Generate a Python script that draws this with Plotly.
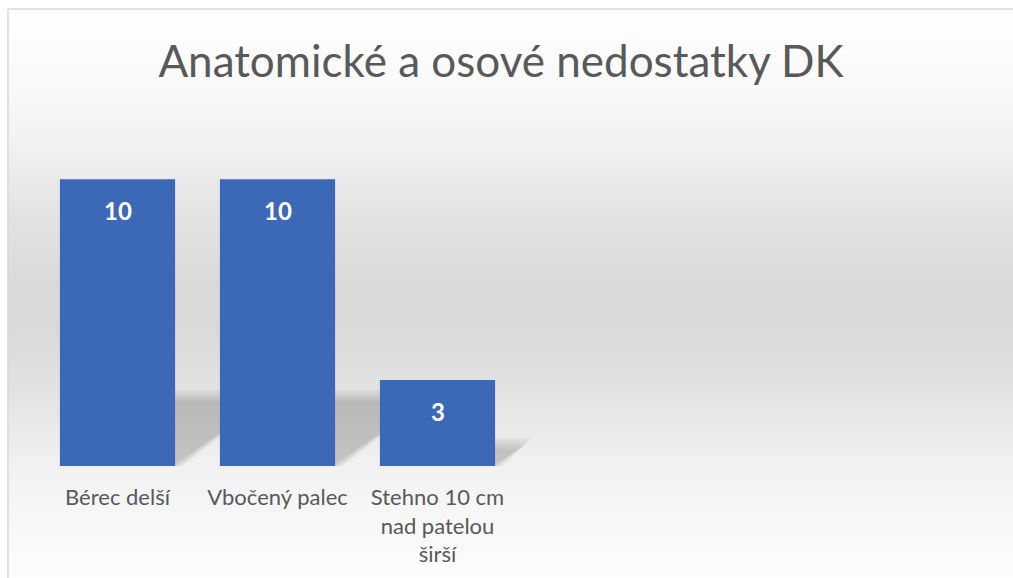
import plotly.graph_objects as go
import numpy as np

categories = ["Bérec delší", "Vbočený palec", "Stehno 10 cm<br>nad patelou<br>širší"]
values = [10, 10, 3]
n_slots = 6

W, H = 1013, 578
# pixel geometry of the plot area
plot_left, plot_right = 37.5, 997.5
plot_bottom_px, plot_top_px = 466, 122
y_max = 12
px_per_y = (plot_bottom_px - plot_top_px) / y_max
px_per_x = (plot_right - plot_left) / n_slots
bar_w = 0.72

fig = go.Figure()

x_idx = list(range(len(categories)))
fig.add_trace(go.Bar(
    x=x_idx, y=values,
    marker=dict(color="#3c68b8", line=dict(width=0)),
    width=bar_w,
    hoverinfo="skip",
))

# data labels
for xi, v in zip(x_idx, values):
    fig.add_annotation(x=xi, y=v, xref="x", yref="y", text=f"<b>{v}</b>",
                       showarrow=False, yshift=-31,
                       font=dict(family="Lato", size=24, color="white"))

shapes = []
# background gradient (chart area starts at x=8, y=9)
stops = [(9, 255), (100, 248), (150, 240), (215, 227), (290, 217), (320, 217),
         (360, 222), (420, 232), (470, 242), (578, 253)]
sy = np.array([s[0] for s in stops], float)
sv = np.array([s[1] for s in stops], float)
step = 3
for y0 in range(9, H, step):
    y1 = min(y0 + step, H)
    g = int(round(np.interp((y0 + y1) / 2, sy, sv)))
    shapes.append(dict(type="rect", xref="paper", yref="paper", layer="below",
                       x0=8 / W, x1=1, y0=1 - y1 / H, y1=1 - y0 / H,
                       fillcolor=f"rgb({g},{g},{g})", line=dict(width=0)))
# border
shapes.append(dict(type="line", xref="paper", yref="paper", layer="below",
                   x0=8 / W, x1=1, y0=1 - 9 / H, y1=1 - 9 / H,
                   line=dict(color="#d9d9d9", width=1.5)))
shapes.append(dict(type="line", xref="paper", yref="paper", layer="below",
                   x0=8 / W, x1=8 / W, y0=0, y1=1 - 9 / H,
                   line=dict(color="#d9d9d9", width=1.5)))

# soft perspective shadows behind bars (decoration derived from values)
for xi, v in zip(x_idx, values):
    hs_px = 0.24 * v * px_per_y
    s_px = hs_px / 0.71
    for g in [-4, -2, 0, 2, 4, 6, 8]:
        xl = xi - bar_w / 2
        xr = xi + bar_w / 2 + g / px_per_x
        top = (hs_px + g) / px_per_y
        s = s_px / px_per_x
        path = f"M {xl},0 L {xr},0 L {xr + s},{top} L {xl + s},{top} Z"
        shapes.append(dict(type="path", xref="x", yref="y", layer="below",
                           path=path, fillcolor="rgba(0,0,0,0.028)",
                           line=dict(width=0)))

fig.update_layout(
    width=W, height=H,
    margin=dict(l=0, r=0, t=0, b=0),
    paper_bgcolor="white",
    plot_bgcolor="rgba(0,0,0,0)",
    showlegend=False,
    shapes=shapes,
    title=dict(text="Anatomické a osové nedostatky DK",
               x=501 / W, xanchor="center", xref="container",
               y=1 - 62 / H, yanchor="middle", yref="container",
               font=dict(family="Lato", size=44, color="#595959")),
    xaxis=dict(domain=[plot_left / W, plot_right / W],
               range=[-0.5, n_slots - 0.5],
               tickvals=x_idx, ticktext=categories,
               showgrid=False, zeroline=False, showline=False, ticks="",
               ticklabelstandoff=16,
               tickfont=dict(family="Lato", size=22, color="#595959"),
               automargin=False, fixedrange=True),
    yaxis=dict(domain=[1 - plot_bottom_px / H, 1 - plot_top_px / H],
               range=[0, y_max], visible=False, automargin=False,
               fixedrange=True),
)

fig.write_html("out.html")
